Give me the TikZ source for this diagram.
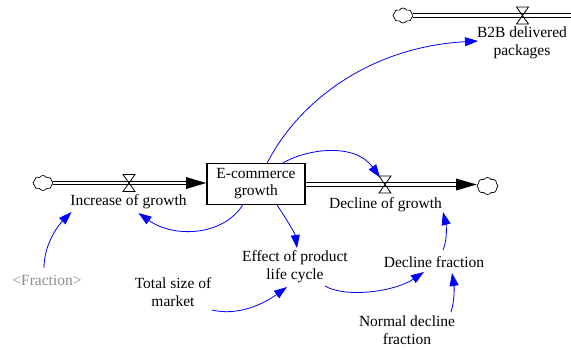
\documentclass[tikz,border=0pt]{standalone}
\usepackage{fontspec}
\setmainfont{Liberation Serif}
\newfontfamily\diagfont{Liberation Serif}
\usetikzlibrary{arrows.meta,calc,shapes.symbols}
\begin{document}
\begin{tikzpicture}[x=1pt,y=-1pt,
  lbl/.style={font=\diagfont\fontsize{15.5}{17.5}\selectfont, align=center, inner sep=0pt, text=black},
  ghost/.style={lbl, text=black!45},
  stockbox/.style={draw, line width=1.6pt, minimum width=98pt, minimum height=41pt, inner sep=0pt, font=\diagfont\fontsize{15.5}{17}\selectfont, align=center},
  link/.style={draw=blue, line width=0.8pt, -{Triangle[length=13pt,width=9pt,fill=blue]}},
  pipe/.style={double distance=2.5pt, line width=0.9pt, double=white},
  valvebox/.style={line width=0.8pt},
  sink/.style={cloud, draw, cloud puffs=8, cloud puff arc=120, cloud ignores aspect, minimum width=20pt, minimum height=15pt, inner sep=0pt, line width=0.7pt},
  tiphead/.style={fill=black}
]
\useasboundingbox (0,0) rectangle (571,349);

% stock
\node[stockbox] (stock) at (256,184) {E-commerce\\growth};

% clouds
\node[sink] (c1) at (43,183) {};
\node[sink, minimum width=21pt, minimum height=17pt] (c2) at (487.5,186) {};
\node[sink] (c3) at (403,15.5) {};

% valves (coordinates)
\coordinate (v1) at (129,183);
\coordinate (v2) at (385,184.5);
\coordinate (v3) at (522.5,15.5);

% inflow pipe
\coordinate (inend) at (186,183);
\draw[pipe] (c1.east) -- (inend);
\fill[tiphead] ($(inend)+(0,-6)$) -- ($(stock.west)+(0,-1)$) -- ($(inend)+(0,6)$) -- cycle;

% outflow pipe
\coordinate (outend) at (456,184.5);
\draw[pipe] (stock.east |- outend) -- (outend);
\fill[tiphead] ($(outend)+(0,-6)$) -- (c2.west |- outend) -- ($(outend)+(0,6)$) -- cycle;

% top pipe
\coordinate (topend) at (571,15.5);
\draw[pipe] (c3.east) -- (topend);

% valves
\foreach \v in {v1,v2,v3}{
  \draw[valvebox] ($(\v)+(-6,-8.5)$) -- ++(12,0) -- ++(-12,17) -- ++(12,0) -- cycle;
}

% labels
\node[lbl] (inc) at (128.5,202) {Increase of growth};
\node[lbl] (dec) at (385.5,205) {Decline of growth};
\node[lbl] (b2b) at (522,43) {B2B delivered\\packages};
\node[lbl] (eff) at (295,266.5) {Effect of product\\life cycle};
\node[lbl] (df) at (434,262) {Decline fraction};
\node[lbl] (total) at (173,292) {Total size of\\market};
\node[lbl] (norm) at (407,330) {Normal decline\\fraction};
\node[ghost] (frac) at (47,280) {<Fraction>};

% links
\draw[link] ($(stock)+(11,-20.5)$) .. controls +(30,-60) and +(-110,6) .. ($(b2b)+(-44,-2)$);
\draw[link] ($(stock)+(26,-20.5)$) .. controls +(25,-15) and +(-25,-35) .. ($(v2)+(-5,-7)$);
\draw[link] ($(stock)+(-13,20.5)$) .. controls +(-20,32) and +(35,25) .. ($(inc)+(10,11)$);
\draw[link] ($(stock)+(21,21)$) .. controls +(8,12) and +(-2,-15) .. ($(eff)+(2,-18.5)$);
\draw[link] ($(frac)+(-3,-12)$) .. controls +(0,-25) and +(-12,12) .. ($(inc)+(-57,10)$);
\draw[link] ($(total)+(39,18)$) .. controls +(25,6) and +(-25,18) .. ($(eff)+(-8,20.5)$);
\draw[link] ($(eff)+(30,19.5)$) .. controls +(20,12) and +(-30,20) .. ($(df)+(-10,10)$);
\draw[link] ($(norm)+(44,-18)$) .. controls +(4,-12) and +(2,12) .. ($(df)+(18,11)$);
\draw[link] ($(df)+(9,-12)$) .. controls +(5,-12) and +(3,12) .. ($(dec)+(57.5,7)$);
\end{tikzpicture}
\end{document}
